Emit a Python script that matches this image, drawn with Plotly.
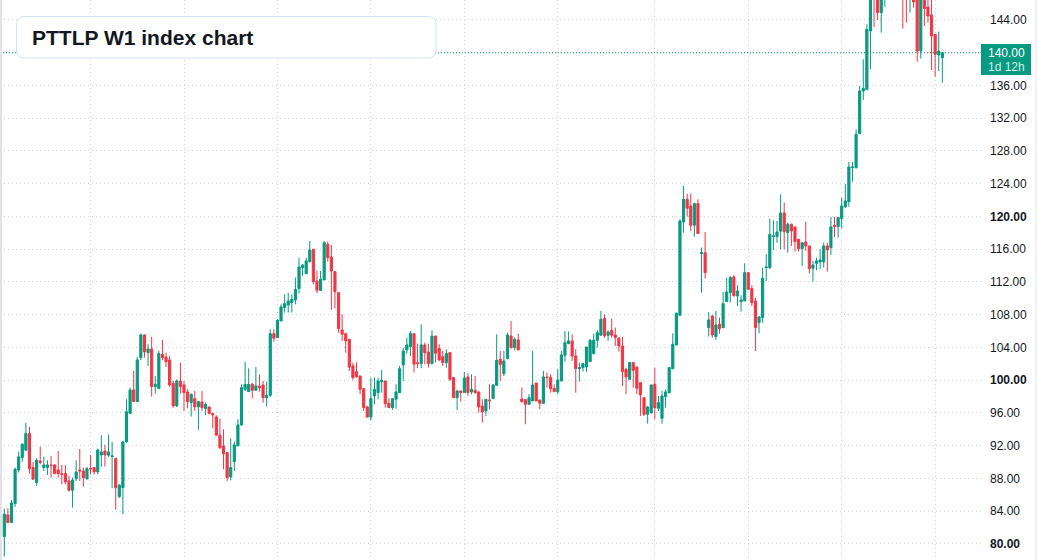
import plotly.graph_objects as go

# ---- data (weekly candles) ----
opens = [80.90,83.55,82.61,84.93,89.04,90.55,91.45,93.48,89.33,87.50,90.14,89.33,89.33,89.65,89.65,89.04,88.60,88.60,87.70,86.56,
 87.98,89.04,88.92,87.98,89.25,89.33,88.80,90.88,91.36,90.84,90.67,90.43,85.80,86.88,92.46,95.96,98.81,97.39,102.76,105.53,
 103.37,103.82,99.22,98.98,103.17,102.84,102.48,99.59,96.86,99.91,99.42,98.57,97.27,97.75,96.74,97.35,96.53,96.74,95.92,95.52,
 93.28,91.97,91.16,88.18,90.06,91.97,94.54,98.89,98.61,99.50,98.77,99.30,99.42,97.87,98.16,105.69,105.20,107.24,108.87,109.19,
 109.48,109.80,111.19,113.75,113.02,114.49,115.99,112.12,110.98,112.25,116.60,115.05,113.26,110.70,106.14,105.69,104.99,101.74,101.05,100.52,
 98.97,96.73,95.51,98.08,98.49,99.83,99.91,97.18,96.65,97.67,98.49,101.86,103.70,104.10,105.69,102.15,102.03,104.31,103.45,102.03,
 105.40,103.86,102.88,102.15,103.37,100.32,97.87,98.69,98.49,100.40,98.57,98.77,98.57,96.86,96.25,97.59,97.75,99.38,102.56,100.80,
 102.64,105.40,103.98,104.92,97.71,97.63,97.06,97.47,99.66,97.59,97.18,100.40,100.32,99.01,98.60,99.91,103.04,104.47,104.80,102.96,
 101.41,101.54,101.62,102.27,103.25,104.88,105.49,107.56,105.49,106.10,105.53,105.12,104.18,101.33,100.11,102.15,101.62,99.70,97.87,95.84,
 96.04,99.50,96.57,95.35,97.99,98.48,101.41,104.31,107.93,119.33,122.10,121.28,118.92,121.57,115.46,115.58,106.42,107.85,105.33,106.83,
 106.42,109.60,110.70,112.61,110.29,109.60,109.68,113.14,111.19,109.68,107.03,107.65,113.75,113.75,117.54,117.54,118.20,120.43,118.03,119.05,
 118.72,117.21,116.07,116.89,116.40,113.67,114.28,114.45,114.45,116.40,116.20,118.92,118.76,119.75,121.16,121.81,125.96,125.96,130.11,135.33,
 135.53,142.66,148.50,147.50,144.90,146.80,148.50,150.20,149.00,150.00,148.50,147.20,146.50,148.00,147.00,140.21,147.00,145.59,144.61,142.25,
 139.73,139.40]
highs = [84.32,84.36,85.34,89.33,91.28,92.30,94.78,94.30,90.00,90.47,91.89,90.67,90.22,90.75,89.73,91.36,89.65,89.65,88.31,88.10,
 90.22,91.60,89.33,89.41,90.87,89.33,91.65,93.28,92.10,93.36,92.46,90.55,87.30,92.58,97.67,99.10,101.13,102.84,105.69,105.61,
 104.39,105.29,100.52,103.58,104.92,103.37,102.96,99.91,100.11,102.15,99.91,98.90,98.36,98.69,97.47,98.69,97.27,96.74,96.04,95.72,
 95.31,94.01,91.16,92.90,92.50,95.23,99.50,102.23,101.46,99.70,101.62,100.72,99.90,99.83,106.22,106.22,107.44,109.27,110.50,110.70,
 110.50,112.53,114.97,114.16,114.97,117.01,115.99,113.34,113.34,117.01,116.93,116.52,113.26,110.70,108.05,105.81,104.99,102.15,102.20,100.52,
 98.97,96.86,100.32,100.32,100.32,101.25,99.91,97.79,97.75,99.50,101.74,103.98,105.20,106.02,105.69,104.47,106.83,104.59,104.47,106.10,
 105.40,104.39,103.57,103.78,103.37,100.32,98.77,98.69,101.01,100.85,100.72,100.52,98.57,97.67,97.67,99.50,99.50,105.61,103.57,103.57,
 105.81,107.24,105.20,105.69,99.10,97.63,98.28,103.57,99.66,97.59,101.13,100.93,100.72,99.50,101.33,103.57,106.02,105.94,105.61,103.78,
 102.15,102.03,104.06,105.00,105.69,106.10,108.46,108.05,106.10,107.52,106.43,105.29,105.29,101.54,102.23,102.15,101.62,99.70,97.87,96.86,
 99.42,101.54,98.08,98.69,98.89,101.62,105.73,108.26,119.66,123.73,122.79,122.79,121.69,122.10,116.20,118.11,108.34,107.97,108.46,107.64,
 110.78,112.53,112.73,112.86,111.60,110.37,114.28,113.14,111.60,110.09,107.85,113.75,115.38,119.70,119.53,119.45,122.71,121.70,119.25,119.13,
 118.72,117.21,116.80,119.37,116.40,114.57,114.97,115.99,116.80,116.80,119.94,119.94,119.86,122.30,123.97,126.65,126.65,130.64,135.94,139.20,
 143.47,148.50,149.50,148.50,148.00,149.50,151.00,151.50,150.50,151.20,149.50,148.60,149.00,149.00,148.00,147.50,148.00,146.80,146.50,142.25,
 142.57,140.00]
lows = [78.46,82.53,82.61,84.52,88.72,90.02,91.36,88.60,87.90,87.09,89.73,88.92,88.43,88.10,88.50,88.10,87.29,87.29,86.40,84.44,
 87.70,87.70,87.00,87.82,88.50,88.50,88.50,89.45,89.45,90.63,86.80,84.20,85.60,83.63,92.38,95.84,97.39,97.39,102.44,102.76,
 101.74,98.00,98.36,98.98,102.44,101.62,99.22,96.65,96.74,98.36,96.25,96.57,95.56,96.25,93.93,96.25,95.72,95.84,94.13,93.20,
 91.57,89.12,87.70,87.78,88.92,91.97,94.42,98.69,98.61,97.79,98.77,98.60,97.26,96.77,97.95,104.71,105.20,107.24,108.26,108.26,
 108.26,109.27,110.58,112.73,112.94,114.36,111.72,110.62,110.90,112.25,114.49,108.58,108.78,105.81,104.80,103.37,101.13,99.99,100.32,98.28,
 96.25,95.43,95.11,97.06,97.67,98.49,96.65,96.65,96.37,96.53,98.49,99.91,103.25,102.96,100.93,101.46,101.46,101.94,101.54,101.94,
 102.15,102.35,101.74,101.54,99.91,97.87,96.37,97.38,98.49,98.08,98.28,98.36,96.04,94.82,95.64,96.45,97.75,99.30,99.91,100.52,
 102.56,103.86,103.65,103.65,97.26,94.62,97.06,97.47,97.47,96.45,97.18,99.10,98.48,98.60,98.28,99.91,102.27,104.39,102.35,98.48,
 99.83,101.05,101.05,102.27,103.17,103.98,105.49,105.20,104.80,105.20,104.18,103.49,99.30,98.28,100.11,99.10,98.28,95.64,95.64,94.70,
 95.92,95.23,96.25,94.70,96.65,98.36,101.33,104.26,107.93,118.03,119.98,118.23,117.54,117.91,110.70,112.41,105.33,105.20,104.92,105.69,
 106.42,109.60,109.48,110.29,109.07,108.38,109.68,111.02,109.07,103.57,105.73,107.03,112.12,113.60,115.91,116.80,115.99,115.99,115.58,116.40,
 115.71,115.71,113.96,115.79,113.02,112.04,113.43,113.55,113.75,113.26,115.30,117.50,117.42,118.53,121.08,121.20,124.25,125.84,130.11,134.23,
 135.41,137.97,143.14,144.00,142.45,145.60,147.00,147.50,147.20,147.80,142.94,143.67,144.90,145.50,138.91,139.28,143.27,143.67,137.89,137.04,
 137.77,136.35]
closes = [83.63,82.61,85.01,89.12,90.63,92.18,93.48,89.20,87.90,90.22,89.98,89.65,89.65,89.57,88.60,88.60,88.50,87.58,86.56,87.82,
 88.80,88.92,88.10,89.20,89.17,88.80,91.48,91.24,90.88,91.24,90.75,86.88,87.20,92.46,96.15,98.81,97.39,102.48,105.53,103.45,
 103.82,99.22,99.50,103.25,102.76,102.27,99.42,96.86,99.91,99.22,98.49,97.39,98.28,96.74,97.39,96.65,97.06,95.92,95.76,93.28,
 91.77,91.04,88.10,89.33,92.10,94.54,99.10,99.50,99.50,98.77,99.30,99.10,97.87,98.16,105.69,105.12,107.32,108.95,109.35,109.68,
 109.88,111.10,113.83,114.08,114.57,115.91,112.04,110.98,112.33,116.80,114.97,113.34,110.82,106.30,105.61,104.80,101.60,100.32,100.42,98.89,
 96.65,95.51,97.75,98.89,99.91,99.99,97.14,96.65,97.75,98.57,101.41,103.57,104.31,105.73,101.94,102.03,104.31,103.37,102.03,105.40,
 103.29,102.48,102.15,103.25,100.11,97.87,98.69,98.49,100.27,98.49,98.89,98.48,96.73,96.12,97.67,97.50,99.42,102.43,101.94,102.35,
 105.53,103.98,105.00,103.70,97.38,97.06,97.87,99.42,97.47,97.18,100.40,100.32,98.97,98.60,100.03,103.08,104.59,104.80,102.96,101.41,
 101.54,102.03,104.06,104.88,104.88,105.81,107.44,105.41,105.90,105.49,105.20,104.18,101.05,100.40,102.15,101.21,99.01,98.20,95.84,96.73,
 99.42,96.65,97.26,98.08,98.57,101.54,104.39,108.18,119.45,122.10,121.00,118.92,121.57,117.91,115.58,113.14,107.36,105.53,106.75,106.30,
 109.35,110.78,112.53,110.29,110.90,109.80,113.14,111.10,109.48,106.42,107.73,112.45,113.83,117.80,117.62,118.11,120.43,118.15,119.05,118.23,
 116.93,116.07,116.80,116.40,113.63,114.08,114.57,114.69,116.40,115.91,118.72,118.76,119.86,121.28,121.89,126.04,126.04,130.03,135.33,135.65,
 142.86,147.80,146.60,144.90,147.00,148.50,150.20,149.00,150.00,148.50,147.20,146.50,148.00,146.20,140.21,146.50,145.40,144.49,142.05,139.81,
 140.21,140.00]

bar_index = list(range(len(closes)))
last_price = 140.00
countdown = "1d 12h"
title_text = "PTTLP W1 index chart"

price_ticks = list(range(80, 148, 4))
bold_ticks = [80, 100, 120]
tick_labels = []
for v in price_ticks:
    if v == 140:
        tick_labels.append("")
    elif v in bold_ticks:
        tick_labels.append(f"<b>{v:.2f}</b>")
    else:
        tick_labels.append(f"{v:.2f}")

# half-year separators (bar indices)
period_starts = [24, 50, 76, 102, 128, 154, 181, 207, 233, 259]

UP = "#089981"
DOWN = "#F23645"
GRID = "#cfd3da"
TEXT = "#131722"
FONT = "Liberation Sans, Arial, sans-serif"

W, H = 1037, 560
PLOT_W = 981  # plot area width in pixels

def px(x):
    return x / PLOT_W

def py(y):
    return 1 - y / H

fig = go.Figure(go.Candlestick(
    x=bar_index, open=opens, high=highs, low=lows, close=closes,
    increasing=dict(line=dict(color=UP, width=1), fillcolor=UP),
    decreasing=dict(line=dict(color=DOWN, width=1), fillcolor=DOWN),
    whiskerwidth=0, hoverinfo="skip",
))

# rounded title box
x0, y0, x1, y1, r = 16.5, 16.5, 436, 58, 8
path = (f"M {px(x0+r)},{py(y0)} L {px(x1-r)},{py(y0)} Q {px(x1)},{py(y0)} {px(x1)},{py(y0+r)} "
        f"L {px(x1)},{py(y1-r)} Q {px(x1)},{py(y1)} {px(x1-r)},{py(y1)} "
        f"L {px(x0+r)},{py(y1)} Q {px(x0)},{py(y1)} {px(x0)},{py(y1-r)} "
        f"L {px(x0)},{py(y0+r)} Q {px(x0)},{py(y0)} {px(x0+r)},{py(y0)} Z")

shapes = [
    dict(type="line", xref="paper", yref="y", x0=0, x1=1, y0=last_price, y1=last_price,
         line=dict(color=UP, width=1, dash="1px,2px"), layer="above"),
    dict(type="path", xref="paper", yref="paper", path=path,
         fillcolor="white", line=dict(color="#d4e2f8", width=1), layer="above"),
    dict(type="rect", xref="paper", yref="paper", x0=px(981), x1=px(1031), y0=py(75), y1=py(44),
         fillcolor=UP, line=dict(width=0), layer="above"),
    dict(type="line", xref="paper", yref="paper", x0=px(1), x1=px(1), y0=0, y1=1,
         line=dict(color="#e3e3e3", width=2), layer="above"),
    dict(type="line", xref="paper", yref="paper", x0=px(1036), x1=px(1036), y0=0, y1=1,
         line=dict(color="#e3e3e3", width=1), layer="above"),
]

annotations = [
    dict(xref="paper", yref="paper", x=px(29.5), y=py(37.5), xanchor="left", yanchor="middle",
         text=f"<b>{title_text}</b>", showarrow=False,
         font=dict(family=FONT, size=21, color=TEXT)),
    dict(xref="paper", yref="paper", x=px(1006), y=py(52.5), xanchor="center", yanchor="middle",
         text=f"{last_price:.2f}", showarrow=False,
         font=dict(family=FONT, size=12, color="white")),
    dict(xref="paper", yref="paper", x=px(1006), y=py(66.5), xanchor="center", yanchor="middle",
         text=countdown, showarrow=False,
         font=dict(family=FONT, size=12, color="#d2efe9")),
]

spacing = 3.594
first_px = 4.3
xr0 = -first_px / spacing
xr1 = xr0 + PLOT_W / spacing

fig.update_layout(
    width=W, height=H,
    margin=dict(l=0, r=W - PLOT_W, t=0, b=0),
    paper_bgcolor="white", plot_bgcolor="white",
    showlegend=False,
    boxgap=0.4, boxgroupgap=0,
    shapes=shapes, annotations=annotations,
    font=dict(family=FONT, size=12, color=TEXT),
    xaxis=dict(range=[xr0, xr1], rangeslider=dict(visible=False),
               tickvals=period_starts, showticklabels=False, ticks="",
               showgrid=True, gridcolor=GRID, griddash="1px,3px", gridwidth=1,
               zeroline=False, showline=False, fixedrange=True),
    yaxis=dict(side="right", range=[78.04, 146.44], tickvals=price_ticks, ticktext=tick_labels,
               showgrid=True, gridcolor=GRID, griddash="1px,3px", gridwidth=1,
               zeroline=False, showline=False, ticks="", ticklabelstandoff=8,
               automargin=False, tickfont=dict(size=12, color=TEXT), fixedrange=True),
)

fig.write_html("out.html")
